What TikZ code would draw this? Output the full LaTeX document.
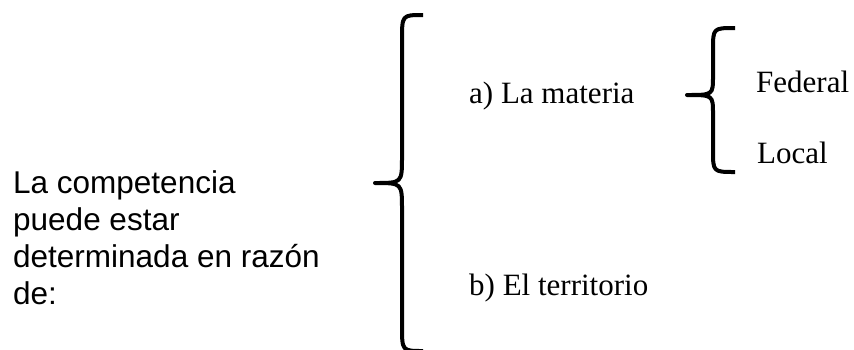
\documentclass[tikz,border=0pt]{standalone}
\usepackage{fontspec}
\newfontfamily\arialf{Liberation Sans}
\newfontfamily\timesf{Liberation Serif}
\usetikzlibrary{positioning}

\begin{document}
\begin{tikzpicture}[
  x=1pt, y=-1pt,
  sans/.style={font=\arialf\fontsize{31.5}{37.3}\selectfont, inner sep=0pt, anchor=base west},
  serif/.style={font=\timesf\fontsize{31}{37}\selectfont, inner sep=0pt, anchor=base west},
  brc/.style={line width=4pt, line join=round}
]
  \useasboundingbox (0,0) rectangle (854,349);

  % left statement
  \node[sans] (lt1) at (13,193) {La competencia};
  \node[sans] (lt2) at ([yshift=-37.3pt]lt1.base west) {puede estar};
  \node[sans] (lt3) at ([yshift=-37.3pt]lt2.base west) {determinada en razón};
  \node[sans] (lt4) at ([yshift=-37.3pt]lt3.base west) {de:};

  % big brace
  \coordinate (bt) at (423,15);
  \coordinate (bm) at (375,183);
  \coordinate (bb) at (423,351);
  \draw[brc] (bt) .. controls (402,15) .. (402,40) -- (402,157)
    .. controls (402,183) .. (bm) .. controls (402,183) .. (402,209)
    -- (402,326) .. controls (402,351) .. (bb);

  \node[serif] (mat) at (469,103) {a) La materia};
  \node[serif] (ter) at (469,295) {b) El territorio};

  % small brace
  \coordinate (st) at (735,28);
  \coordinate (sm) at (687,95);
  \coordinate (sb) at (735,172);
  \draw[brc] (st) .. controls (713,28) .. (713,50) -- (713,76)
    .. controls (713,95) .. (sm) .. controls (713,95) .. (713,114)
    -- (713,150) .. controls (713,172) .. (sb);

  \node[serif] (fed) at (756,92) {Federal};
  \node[serif] (loc) at (757,163) {Local};
\end{tikzpicture}
\end{document}
